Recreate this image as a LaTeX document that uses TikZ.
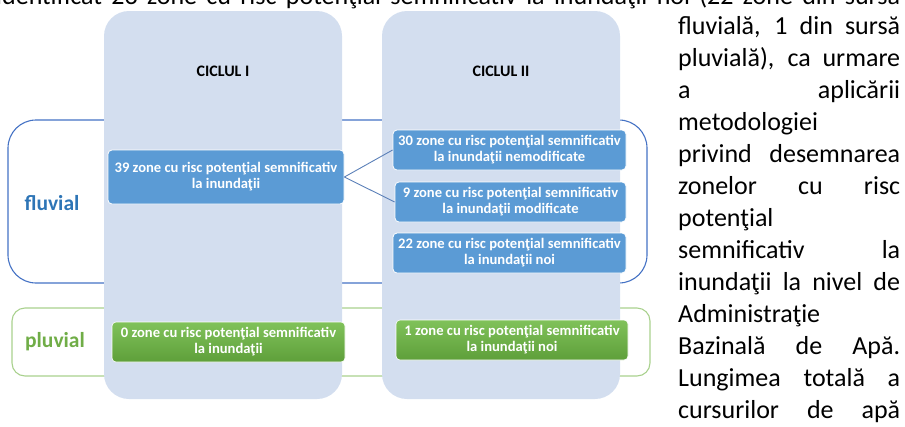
\documentclass[tikz,border=0pt]{standalone}
\usepackage{fontspec}
\setmainfont{Carlito}
\definecolor{colfill}{HTML}{D3DEEF}
\definecolor{boxblue}{HTML}{5B9BD5}
\definecolor{framblue}{HTML}{4472C4}
\definecolor{txtblue}{HTML}{2E75B6}
\definecolor{framgreen}{HTML}{A9D18E}
\definecolor{txtgreen}{HTML}{70AD47}
\definecolor{gtop}{HTML}{80C25A}
\definecolor{gbot}{HTML}{5E9F3A}
\definecolor{linkblue}{HTML}{5B80B8}
\tikzset{
  colbox/.style={fill=colfill, rounded corners=25pt},
  bluebox/.style={fill=boxblue, draw=white, line width=0.8pt, rounded corners=4pt,
    text=white, align=center, inner sep=0pt,
    font=\fontsize{14.6}{16}\selectfont\bfseries},
  greenbox/.style={top color=gtop, bottom color=gbot, draw=white, line width=0.6pt,
    rounded corners=4pt, text=white, align=center, inner sep=0pt,
    font=\fontsize{14.6}{16}\selectfont\bfseries},
  cyclabel/.style={font=\fontsize{16}{18}\selectfont\bfseries, text=black},
  rowlabel/.style={font=\fontsize{21.5}{24}\selectfont\bfseries},
  sideline/.style={anchor=base west, inner sep=0pt, font=\fontsize{26}{31}\selectfont},
  link/.style={draw=linkblue, line width=0.9pt}
}
\begin{document}
\begin{tikzpicture}[x=1pt,y=-1pt]
\useasboundingbox (0,0) rectangle (905,426);
\clip (0,0) rectangle (905,426);
% row frames (behind the columns)
\draw[framblue, line width=1.1pt, rounded corners=28pt] (8,120) rectangle (647,283);
\draw[framgreen, line width=1.1pt, rounded corners=13pt] (12,308) rectangle (650,376);
% columns
\fill[colbox] (104,11) rectangle (342,399);
\fill[colbox] (382,11) rectangle (620,399);
% headers
\node[cyclabel] (c1) at (223,71) {CICLUL I};
\node[cyclabel] (c2) at (501,71) {CICLUL II};
% row labels
\node[rowlabel, text=txtblue] (fl) at (52,203) {fluvial};
\node[rowlabel, text=txtgreen] (pl) at (55,342) {pluvial};
% boxes
\node[bluebox, minimum width=236pt, minimum height=54pt] (b39) at (226,177)
  {39 zone cu risc potenţial semnificativ\\la inundaţii};
\node[bluebox, minimum width=233pt, minimum height=40pt] (b30) at (509.5,150)
  {30 zone cu risc potenţial semnificativ\\la inundaţii nemodificate};
\node[bluebox, minimum width=231pt, minimum height=40pt] (b9) at (510.5,202)
  {9 zone cu risc potenţial semnificativ\\la inundaţii modificate};
\node[bluebox, minimum width=233pt, minimum height=40pt] (b22) at (509.5,253)
  {22 zone cu risc potenţial semnificativ\\la inundaţii noi};
\node[greenbox, minimum width=233pt, minimum height=40pt] (g0) at (228.5,342)
  {0 zone cu risc potenţial semnificativ\\la inundaţii};
\node[greenbox, minimum width=232pt, minimum height=40pt] (g1) at (512,340)
  {1 zone cu risc potenţial semnificativ\\la inundaţii noi};
% connectors
\draw[link] (b39.east) -- (b30.west);
\draw[link] (b39.east) -- (b9.west);
% side text
\node[sideline] (t0) at (-4,4) {\makebox[904pt][s]{identificat 23 zone cu risc potenţial semnificativ la inundaţii noi (22 zone din sursa}};
\node[sideline] (t1) at (678,34) {\makebox[222pt][s]{fluvială, 1 din sursă}};
\node[sideline] (t2) at (678,66) {\makebox[222pt][s]{pluvială), ca urmare}};
\node[sideline] (t3) at (678,98) {\makebox[222pt][s]{a aplicării}};
\node[sideline] (t4) at (678,130) {metodologiei};
\node[sideline] (t5) at (678,162) {\makebox[222pt][s]{privind desemnarea}};
\node[sideline] (t6) at (678,194) {\makebox[222pt][s]{zonelor cu risc}};
\node[sideline] (t7) at (678,226) {potenţial};
\node[sideline] (t8) at (678,258) {\makebox[222pt][s]{semnificativ la}};
\node[sideline] (t9) at (678,290) {\makebox[222pt][s]{inundaţii la nivel de}};
\node[sideline] (t10) at (678,322) {Administraţie};
\node[sideline] (t11) at (678,354) {\makebox[222pt][s]{Bazinală de Apă.}};
\node[sideline] (t12) at (678,386) {\makebox[222pt][s]{Lungimea totală a}};
\node[sideline] (t13) at (678,418) {\makebox[222pt][s]{cursurilor de apă}};
\end{tikzpicture}
\end{document}
